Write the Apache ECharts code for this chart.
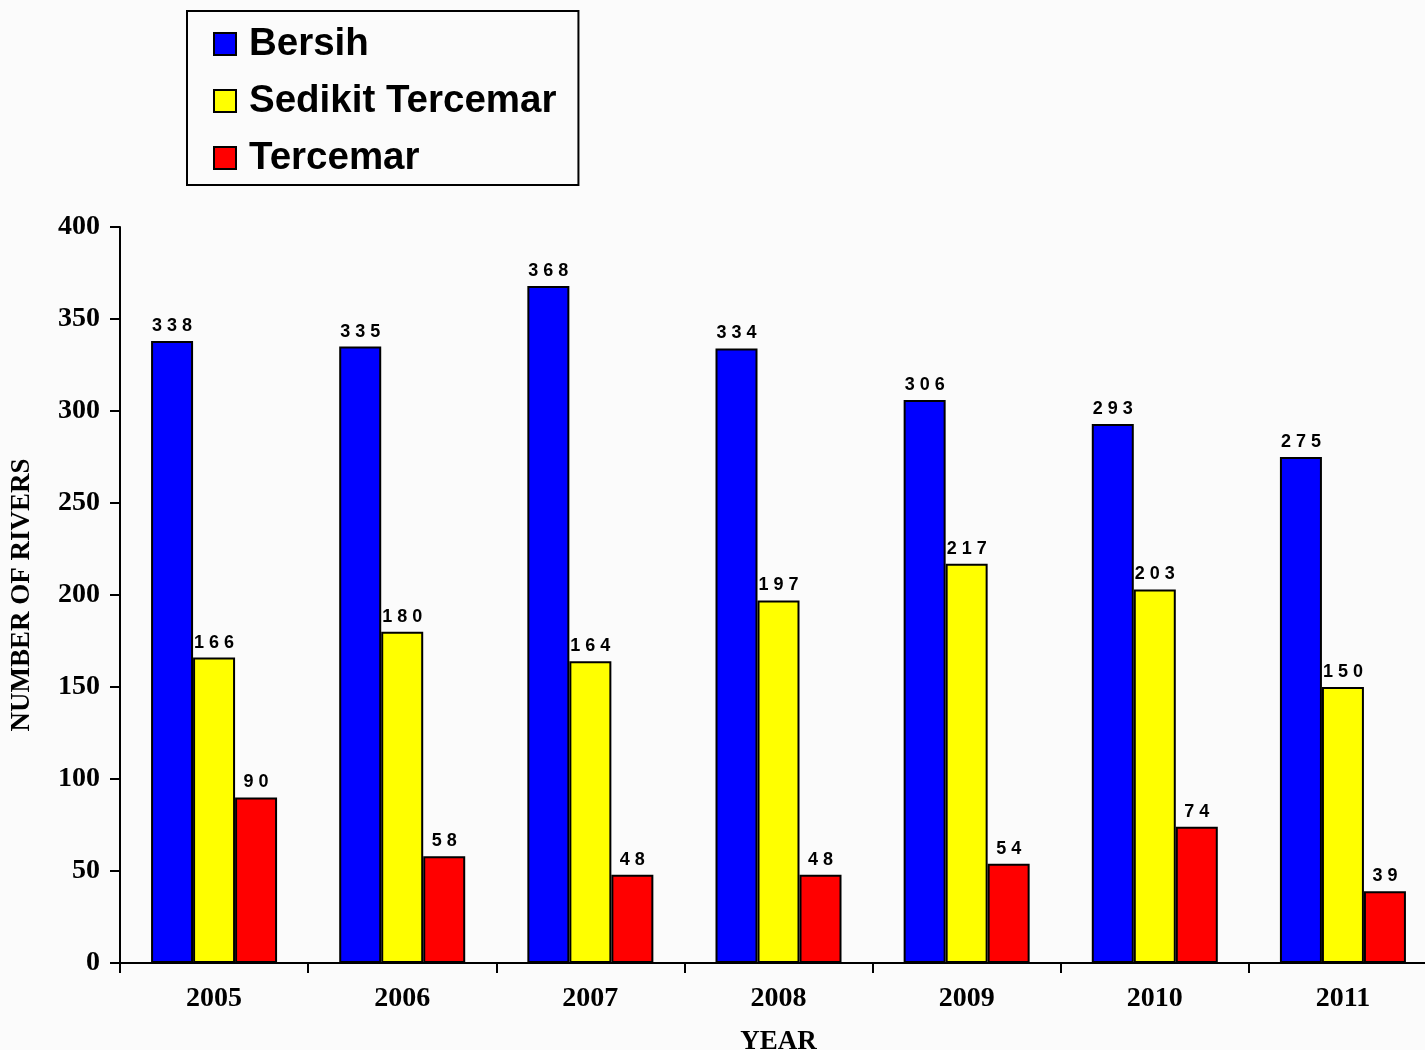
<!DOCTYPE html>
<html>
<head>
<meta charset="utf-8">
<script src="https://cdn.jsdelivr.net/npm/echarts@6/dist/echarts.min.js"></script>
<style>
  html, body { margin: 0; padding: 0; background: #fbfbfb; }
  #main { width: 1425px; height: 1050px; }
</style>
</head>
<body>
<div id="main"></div>
<script>
// data
var years = ['2005', '2006', '2007', '2008', '2009', '2010', '2011'];
var bersih = [338, 335, 368, 334, 306, 293, 275];
var sedikitTercemar = [166, 180, 164, 197, 217, 203, 150];
var tercemar = [90, 58, 48, 48, 54, 74, 39];
var yTicks = [0, 50, 100, 150, 200, 250, 300, 350, 400];

var chartDom = document.getElementById('main');
var myChart = echarts.init(chartDom, null, { renderer: 'canvas' });

// the original spreads the digits of each value label apart
function spacedDigits(p) {
    return String(p.value).split('').join(' ');
}

function makeSeries(name, data, color) {
    return {
        name: name,
        type: 'bar',
        data: data,
        barWidth: 42,
        barGap: '0%',
        itemStyle: {
            color: color,
            borderColor: '#000',
            borderWidth: 2
        },
        label: {
            show: true,
            position: 'top',
            distance: 6,
            formatter: spacedDigits,
            color: '#000',
            fontFamily: 'Liberation Sans',
            fontWeight: 'bold',
            fontSize: 18
        }
    };
}

var axisFont = {
    color: '#000',
    fontFamily: 'Liberation Serif',
    fontWeight: 'bold',
    fontSize: 28
};

var option = {
    backgroundColor: '#fbfbfb',
    animation: false,
    legend: {
        orient: 'vertical',
        left: 187,
        top: 11,
        icon: 'rect',
        itemWidth: 22,
        itemHeight: 22,
        itemGap: 17,
        padding: [13, 22, 7, 26],
        borderColor: '#000',
        borderWidth: 2,
        backgroundColor: '#fbfbfb',
        itemStyle: { borderColor: '#000', borderWidth: 2 },
        textStyle: {
            color: '#000',
            fontFamily: 'Liberation Sans',
            fontWeight: 'bold',
            fontSize: 38.5,
            lineHeight: 40,
            padding: [0, 0, 0, 8]
        },
        data: ['Bersih', 'Sedikit Tercemar', 'Tercemar']
    },
    grid: {
        left: 120,
        right: -12,
        top: 227,
        bottom: 87,
        containLabel: false,
        outerBoundsMode: 'none'
    },
    xAxis: {
        type: 'category',
        data: years,
        name: 'YEAR',
        nameLocation: 'middle',
        nameGap: 66,
        nameTextStyle: Object.assign({}, axisFont, { fontSize: 27 }),
        axisLine: { lineStyle: { color: '#000', width: 2 } },
        axisTick: { show: true, length: 10, lineStyle: { color: '#000', width: 2 } },
        axisLabel: Object.assign({ margin: 22 }, axisFont)
    },
    yAxis: {
        type: 'value',
        min: yTicks[0],
        max: yTicks[yTicks.length - 1],
        interval: 50,
        name: 'NUMBER OF RIVERS',
        nameLocation: 'middle',
        nameGap: 84,
        nameTextStyle: Object.assign({}, axisFont, { fontSize: 27 }),
        axisLine: { show: true, lineStyle: { color: '#000', width: 2 } },
        axisTick: { show: true, length: 10, lineStyle: { color: '#000', width: 2 } },
        axisLabel: Object.assign({ margin: 20 }, axisFont),
        splitLine: { show: false }
    },
    series: [
        makeSeries('Bersih', bersih, '#0000ff'),
        makeSeries('Sedikit Tercemar', sedikitTercemar, '#ffff00'),
        makeSeries('Tercemar', tercemar, '#ff0000')
    ]
};

myChart.setOption(option);

window.addEventListener('resize', function () {
    myChart.resize();
});
</script>
</body>
</html>
